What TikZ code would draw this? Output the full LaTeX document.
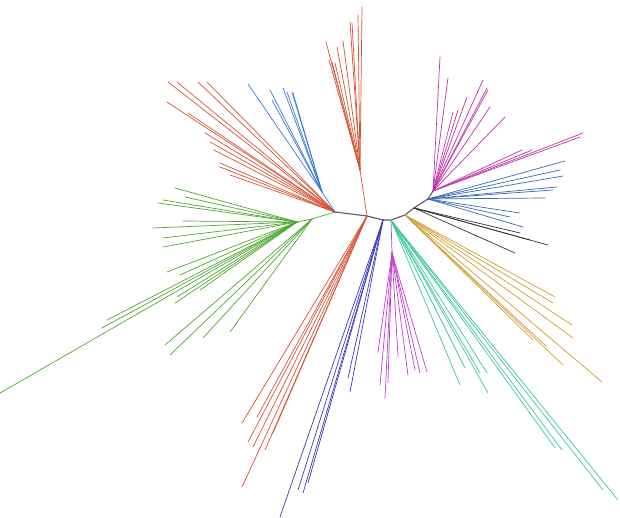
\documentclass[tikz,border=0pt]{standalone}
\usepackage{xcolor}
\definecolor{treered}{RGB}{214,84,52}
\definecolor{treeblue}{RGB}{58,120,214}
\definecolor{treegreen}{RGB}{78,168,50}
\definecolor{treenavy}{RGB}{60,56,190}
\definecolor{treepink}{RGB}{196,48,170}
\definecolor{treeviolet}{RGB}{196,60,210}
\definecolor{treeteal}{RGB}{58,200,156}
\definecolor{treegold}{RGB}{210,158,52}
\definecolor{treesteel}{RGB}{58,106,180}
\definecolor{treeback}{RGB}{90,90,90}
\tikzset{branch/.style={line width=0.7pt,line cap=round},
  backbone/.style={treeback,line width=1.1pt,line join=round}}

\begin{document}
\begin{tikzpicture}[x=1pt,y=-1pt]
  \useasboundingbox[fill=white] (0,0) rectangle (620,518);
  % backbone of the tree
  \coordinate (jl) at (335,212);
  \coordinate (jr) at (367,216);
  \coordinate (jn) at (383,220);
  \coordinate (jm) at (391,220);
  \coordinate (jg) at (405,215);
  \coordinate (jk) at (414,208);
  \coordinate (js) at (428,199);
  \coordinate (jp) at (433,191);
  \draw[backbone] (jl) -- (jr) -- (jn) -- (jm) -- (jg) -- (jk) -- (js) -- (jp);
  % upper left red
  \foreach \x/\y in {168/82,177/82,198/82,207/82,167/102,188/113,205/133,210/142,
      214/150,220/163,220/167,230/175}
    \draw[branch,treered] (jl) -- (\x,\y);
  % upper blue
  \coordinate (bb) at (322,192);
  \draw[branch,treeblue] (jl) -- (bb);
  \foreach \x/\y in {248/84,270/90,272/100,283/88,287/92,292/92,293/93}
    \draw[branch,treeblue] (bb) -- (\x,\y);
  % green
  \coordinate (gs) at (312,219);
  \coordinate (gi) at (297,222);
  \draw[branch,treegreen] (jl) -- (gs) -- (gi);
  \foreach \x/\y in {175/188,158/203,163/200,185/197,183/221,153/228,163/238,163/247}
    \draw[branch,treegreen] (gi) -- (\x,\y);
  \foreach \x/\y in {167/272,180/275,175/303,177/297,107/320,102/328,0/393,200/290}
    \draw[branch,treegreen] (gi) -- (\x,\y);
  \foreach \x/\y in {165/345,170/355,203/338,230/332}
    \draw[branch,treegreen] (gs) -- (\x,\y);
  % top red
  \coordinate (tr) at (360,170);
  \draw[branch,treered] (jr) -- (tr);
  \foreach \x/\y in {326/42,329/60,332/62,335/63,337/47,343/41,350/22,352/23,358/15,362/7}
    \draw[branch,treered] (tr) -- (\x,\y);
  % lower red
  \foreach \x/\y in {242/423,248/442,257/417,253/447,265/450,242/487,273/433}
    \draw[branch,treered] (jr) -- (\x,\y);
  % navy
  \foreach \x/\y in {280/517,298/490,303/493,308/483,348/378,350/392}
    \draw[branch,treenavy] (jn) -- (\x,\y);
  % lower violet
  \coordinate (lv) at (392,253);
  \draw[branch,treeviolet] (jm) -- (lv);
  \foreach \x/\y in {378/352,380/385,385/398,388/383,398/357,408/375,415/370,420/373,427/372}
    \draw[branch,treeviolet] (lv) -- (\x,\y);
  % teal
  \foreach \x/\y in {460/385,465/368,480/373,487/373,488/393,555/448,562/450,603/490,618/500}
    \draw[branch,treeteal] (jm) -- (\x,\y);
  % gold
  \foreach \x/\y in {555/297,553/303,572/325,573/338,563/365,602/382,547/347,533/340}
    \draw[branch,treegold] (jg) -- (\x,\y);
  % black
  \foreach \x/\y in {548/245,515/253,530/240,520/233}
    \draw[branch,black!80] (jk) -- (\x,\y);
  % steel blue
  \foreach \x/\y in {565/161,563/176,560/170,557/187,545/198,520/213,523/227,510/217,553/190}
    \draw[branch,treesteel] (js) -- (\x,\y);
  % upper pink
  \foreach \x/\y in {583/133,580/137,532/150,522/150,505/117,483/80,487/88,488/90,
      467/97,440/57,448/78,490/107,453/112,458/110}
    \draw[branch,treepink] (jp) -- (\x,\y);
\end{tikzpicture}
\end{document}
